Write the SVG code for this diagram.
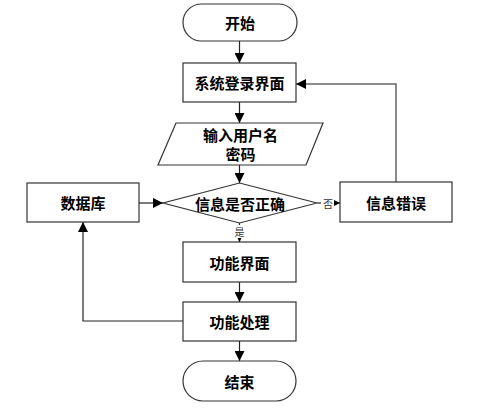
<svg xmlns="http://www.w3.org/2000/svg" width="503" height="409" viewBox="0 0 503 409">
<defs>
<style>
.n{fill:#fff;stroke:#333;stroke-width:1.2}
.t{font-family:"Noto Sans CJK SC",sans-serif;font-size:15px;font-weight:bold;fill:#000;text-anchor:middle;dominant-baseline:central}
.s{font-family:"Noto Sans CJK SC",sans-serif;font-size:10px;fill:#333;text-anchor:middle;dominant-baseline:central}
.c{fill:none;stroke:#222;stroke-width:1.2}
.g{fill:none;stroke:#666;stroke-width:1.5}
</style>
<marker id="a" viewBox="0 0 10 10" refX="10" refY="5" markerWidth="7" markerHeight="7" markerUnits="userSpaceOnUse" orient="auto"><path d="M0,0L10,5L0,10z" fill="#000"/></marker>
<marker id="b" viewBox="0 0 10 10" refX="10" refY="5" markerWidth="10" markerHeight="10" markerUnits="userSpaceOnUse" orient="auto"><path d="M0,0L10,5L0,10z" fill="#000"/></marker>
</defs>
<rect width="503" height="409" fill="#fff"/>
<g id="connectors">
<path class="c" d="M239.5,41V63" marker-end="url(#b)"/>
<path class="c" d="M239.5,102V123" marker-end="url(#b)"/>
<path class="c" d="M239.5,165V183" marker-end="url(#b)"/>
<path class="c" d="M239.5,223V242" marker-end="url(#a)"/>
<path class="c" d="M317,203H340" marker-end="url(#a)"/>
<path class="g" d="M396,182V84H296" marker-end="url(#b)"/>
<path class="c" d="M139,203H163" marker-end="url(#b)"/>
<path class="c" d="M239.5,282V302" marker-end="url(#b)"/>
<path class="c" d="M239.5,341V361" marker-end="url(#b)"/>
<path class="c" d="M183,321H83V222" marker-end="url(#b)"/>
<rect x="321" y="196" width="13" height="14" fill="#fff"/>
<text class="s" x="328" y="203">否</text>
<rect x="233" y="225" width="13" height="13" fill="#fff"/>
<text class="s" x="239.5" y="231">是</text>
</g>
<g id="start"><rect class="n" x="183" y="4" width="114" height="37" rx="18.5"/><text class="t" x="240" y="22.5">开始</text></g>
<g id="login"><rect class="n" x="183" y="63" width="113" height="39"/><text class="t" x="239.5" y="82.5">系统登录界面</text></g>
<g id="input"><path class="n" d="M176,123H323L306,165H158z"/><text class="t" x="240.5" y="134">输入用户名</text><text class="t" x="240.5" y="153">密码</text></g>
<g id="check"><path class="n" d="M239.5,183L317,203L239.5,223L163,203z"/><text class="t" x="240" y="203">信息是否正确</text></g>
<g id="error"><rect class="n" x="340" y="182" width="112" height="40"/><text class="t" x="396" y="202">信息错误</text></g>
<g id="db"><rect class="n" x="27" y="183" width="112" height="39"/><text class="t" x="83" y="202.5">数据库</text></g>
<g id="func"><rect class="n" x="183" y="242" width="113" height="40"/><text class="t" x="239.5" y="262">功能界面</text></g>
<g id="proc"><rect class="n" x="183" y="302" width="113" height="39"/><text class="t" x="239.5" y="321.5">功能处理</text></g>
<g id="end"><rect class="n" x="183" y="361" width="113" height="40" rx="20"/><text class="t" x="239.5" y="381">结束</text></g>
</svg>
